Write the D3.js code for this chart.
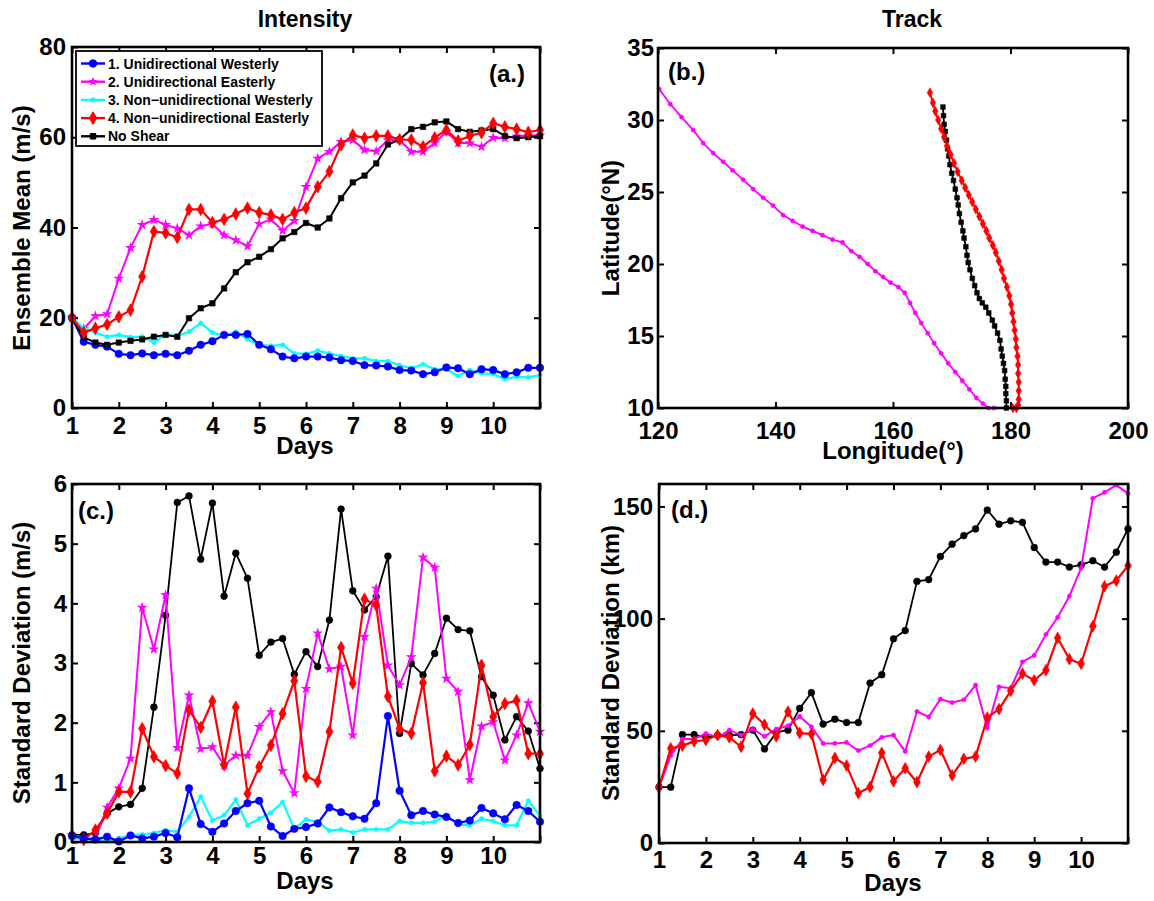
<!DOCTYPE html>
<html>
<head>
<meta charset="utf-8">
<script src="https://cdn.jsdelivr.net/npm/d3@7"></script>
<style>
  html, body { margin: 0; padding: 0; background: #fff; }
  svg { display: block; font-family: "Liberation Sans", Arial, sans-serif; font-weight: bold; }
  .tick text { font-family: "Liberation Sans", Arial, sans-serif; font-weight: bold; fill: #000; }
  .tick line { stroke: #000; stroke-width: 2; }
</style>
</head>
<body>
<svg id="fig" width="1154" height="901"></svg>
<script>
// ---- time axis: every 6 h from day 1 to day 11 ----
const days = d3.range(41).map(i => 1 + i / 4);
const dayTicks = [1, 2, 3, 4, 5, 6, 7, 8, 9, 10, 11];
const dayTickLabels = ["1", "2", "3", "4", "5", "6", "7", "8", "9", "10", ""];

const seriesNames = [
  "1. Unidirectional Westerly",
  "2. Unidirectional Easterly",
  "3. Non\u2212unidirectional Westerly",
  "4. Non\u2212unidirectional Easterly",
  "No Shear"
];

// ---- (a) ensemble-mean intensity (m/s) ----
const meanUW = [20, 14.7, 14.0, 13.6, 12.0, 11.7, 12.1, 11.7, 12.0, 11.7, 12.7, 14.0, 14.8, 16.2, 16.2, 16.4, 14.0, 13.0, 11.4, 11.0, 11.4, 11.4, 11.2, 10.6, 10.4, 9.5, 9.4, 9.2, 8.4, 8.3, 7.5, 7.9, 9.0, 8.8, 7.5, 8.6, 8.4, 7.5, 7.9, 8.9, 8.9];
const meanUE = [20, 17.5, 20.4, 20.8, 28.7, 35.5, 40.6, 41.7, 40.6, 39.8, 38.3, 40.3, 40.8, 38.3, 37.2, 35.9, 40.8, 41.8, 39.3, 41.5, 49.0, 55.3, 56.8, 59.0, 59.4, 57.2, 56.9, 59.4, 59.4, 56.8, 56.8, 58.7, 61.2, 58.7, 58.7, 57.9, 59.9, 59.8, 60.2, 60.4, 60.4];
const meanNW = [20, 17.7, 16.7, 15.8, 16.2, 15.7, 15.8, 14.5, 16.3, 16.0, 16.9, 18.8, 16.7, 16.0, 16.9, 15.2, 14.0, 13.8, 14.0, 12.1, 12.0, 12.7, 12.1, 11.5, 11.0, 11.0, 10.4, 10.4, 9.5, 8.8, 9.7, 8.6, 8.6, 7.1, 8.4, 7.7, 7.5, 6.4, 6.9, 6.8, 7.3];
const meanNE = [20, 16.7, 17.7, 18.5, 20.2, 21.7, 29.1, 39.1, 38.8, 37.8, 44.0, 44.0, 41.1, 41.8, 43.0, 44.3, 43.3, 42.8, 41.8, 43.3, 44.3, 49.0, 52.4, 58.3, 60.5, 59.8, 60.3, 60.3, 59.5, 59.4, 57.9, 59.9, 61.6, 59.2, 60.3, 61.0, 63.1, 62.3, 61.8, 61.1, 61.6];
const meanNS = [20, 15.7, 14.5, 14.0, 14.5, 14.9, 15.2, 15.8, 16.2, 15.8, 19.9, 22.1, 23.2, 26.5, 30.1, 32.3, 33.5, 35.2, 37.6, 39.0, 41.0, 40.0, 42.0, 46.5, 50.0, 51.5, 54.2, 58.4, 59.5, 61.8, 62.3, 63.3, 63.5, 61.8, 61.2, 61.5, 61.8, 60.3, 59.8, 60.0, 60.3];

// ---- (b) tracks (longitude °E, latitude °N) ----
const trackUELon = [177.2, 176.3, 175.3, 174.2, 173.0, 171.8, 170.6, 169.4, 168.2, 167.0, 165.9, 164.8, 163.8, 162.9, 162.0, 160.9, 159.6, 158.3, 157.0, 155.7, 154.3, 152.9, 151.4, 149.7, 148.0, 146.3, 144.6, 142.9, 141.3, 139.6, 137.9, 136.2, 134.5, 132.7, 131.1, 129.4, 127.7, 126.0, 124.0, 122.1, 120.2];
const trackUELat = [10.0, 10.0, 10.3, 10.7, 11.3, 11.9, 12.5, 13.1, 13.8, 14.5, 15.2, 15.9, 16.6, 17.3, 18.0, 18.4, 18.7, 19.1, 19.5, 20.0, 20.5, 20.9, 21.5, 21.7, 22.0, 22.3, 22.6, 23.0, 23.4, 24.05, 24.6, 25.2, 25.85, 26.5, 27.1, 27.7, 28.4, 29.3, 30.2, 31.1, 32.15];
const trackNELon = [180.4, 181.0, 181.3, 181.4, 181.4, 181.4, 181.3, 181.3, 181.2, 181.0, 180.9, 180.7, 180.5, 180.3, 180.1, 179.8, 179.4, 178.9, 178.5, 178.0, 177.5, 177.0, 176.4, 175.9, 175.3, 174.7, 174.1, 173.5, 172.9, 172.3, 171.7, 171.0, 170.4, 169.8, 169.2, 168.7, 168.2, 167.7, 167.2, 166.8, 166.3];
const trackNELat = [10.0, 10.0, 10.2, 10.6, 11.2, 11.8, 12.4, 13.0, 13.6, 14.2, 14.8, 15.4, 16.0, 16.6, 17.2, 17.8, 18.4, 19.0, 19.6, 20.2, 20.8, 21.3, 21.8, 22.3, 22.8, 23.3, 23.8, 24.3, 24.8, 25.3, 25.8, 26.4, 27.0, 27.6, 28.2, 28.8, 29.4, 30.0, 30.6, 31.2, 31.9];
const trackNSLon = [179.3, 179.3, 179.2, 179.2, 179.1, 179.0, 178.8, 178.6, 178.4, 178.2, 177.8, 177.3, 176.9, 176.3, 175.8, 175.2, 174.7, 174.3, 173.9, 173.5, 173.1, 172.8, 172.6, 172.4, 172.1, 171.9, 171.6, 171.3, 171.1, 170.9, 170.6, 170.3, 170.0, 169.7, 169.5, 169.3, 169.1, 168.9, 168.7, 168.6, 168.5];
const trackNSLat = [10.0, 10.5, 11.0, 11.5, 12.0, 12.6, 13.1, 13.6, 14.1, 14.7, 15.2, 15.7, 16.1, 16.6, 17.0, 17.3, 17.6, 18.0, 18.5, 19.0, 19.6, 20.1, 20.6, 21.2, 21.8, 22.3, 22.9, 23.5, 24.1, 24.6, 25.2, 25.8, 26.3, 26.9, 27.5, 28.0, 28.6, 29.2, 29.7, 30.3, 30.9];

// ---- (c) intensity spread (m/s) ----
const sdUW = [0.1, 0.06, 0.04, 0.09, 0.01, 0.11, 0.06, 0.09, 0.15, 0.08, 0.90, 0.30, 0.17, 0.31, 0.52, 0.65, 0.69, 0.26, 0.10, 0.22, 0.25, 0.31, 0.58, 0.50, 0.43, 0.39, 0.65, 2.11, 0.86, 0.45, 0.52, 0.46, 0.42, 0.32, 0.36, 0.57, 0.48, 0.38, 0.62, 0.52, 0.34];
const sdUE = [0.12, 0.06, 0.05, 0.58, 0.90, 1.40, 3.93, 3.23, 4.14, 1.58, 2.46, 1.56, 1.59, 1.29, 1.45, 1.45, 1.93, 2.18, 1.19, 0.82, 2.57, 3.50, 2.90, 2.94, 1.79, 3.44, 4.25, 2.96, 2.63, 3.10, 4.77, 4.60, 2.74, 2.52, 1.04, 1.94, 2.01, 1.37, 1.79, 2.33, 1.85];
const sdNW = [0.05, 0.06, 0.04, 0.01, 0.06, 0.11, 0.13, 0.15, 0.20, 0.17, 0.42, 0.76, 0.36, 0.45, 0.71, 0.28, 0.39, 0.49, 0.67, 0.22, 0.38, 0.34, 0.19, 0.21, 0.16, 0.21, 0.21, 0.21, 0.35, 0.32, 0.32, 0.34, 0.45, 0.30, 0.28, 0.39, 0.35, 0.28, 0.28, 0.69, 0.44];
const sdNE = [0.11, 0.04, 0.20, 0.48, 0.84, 0.84, 1.90, 1.43, 1.28, 1.15, 2.21, 1.92, 2.36, 1.29, 2.26, 0.81, 1.26, 1.62, 2.15, 2.70, 1.10, 1.01, 1.85, 3.26, 2.66, 4.07, 3.97, 2.44, 1.90, 1.82, 2.67, 1.19, 1.44, 1.29, 1.63, 2.96, 2.10, 2.32, 2.37, 1.48, 1.48];
const sdNS = [0.12, 0.12, 0.15, 0.48, 0.59, 0.63, 0.90, 2.26, 3.80, 5.69, 5.80, 4.74, 5.68, 4.12, 4.84, 4.42, 3.13, 3.35, 3.41, 2.81, 3.19, 2.94, 3.72, 5.58, 4.21, 3.89, 4.11, 4.79, 1.82, 2.99, 2.80, 3.16, 3.75, 3.56, 3.54, 2.77, 2.46, 1.71, 2.10, 1.86, 1.23];

// ---- (d) track spread (km) ----
const kmUE = [24.9, 38.9, 46.3, 46.3, 48.8, 47.1, 50.3, 48.1, 50.8, 47.5, 50.8, 52.2, 56.4, 51.8, 44.4, 44.4, 44.8, 41.2, 43.4, 47.1, 48.1, 40.8, 58.6, 56.2, 64.1, 62.6, 63.8, 70.4, 51.2, 69.6, 69.0, 80.7, 83.6, 92.9, 100.6, 110.0, 122.5, 153.6, 156.3, 159.5, 155.8];
const kmNE = [24.9, 42.2, 43.4, 45.3, 45.9, 48.1, 47.1, 42.9, 57.7, 52.7, 47.5, 58.6, 49.0, 48.6, 28.1, 37.9, 34.5, 22.2, 25.0, 40.2, 27.5, 33.3, 27.1, 38.5, 41.5, 30.1, 37.5, 38.5, 55.9, 59.7, 67.8, 75.5, 72.5, 77.0, 91.4, 81.9, 79.9, 96.6, 114.4, 116.9, 123.6];
const kmNS = [24.9, 24.9, 48.3, 48.3, 47.0, 48.0, 48.0, 48.3, 50.3, 41.9, 49.3, 50.3, 60.0, 67.0, 53.0, 55.2, 53.7, 53.7, 71.3, 75.0, 91.0, 94.7, 116.6, 117.4, 127.7, 133.2, 137.0, 140.0, 148.4, 142.1, 143.6, 142.9, 131.7, 125.2, 125.2, 123.0, 124.0, 125.8, 123.0, 129.6, 140.0];

const lonTicks = [120, 140, 160, 180, 200];
const latTicks = [10, 15, 20, 25, 30, 35];

// ---- drawing ----
const svg = d3.select("#fig");
const TICK_FONT = 24, LABEL_FONT = 24;

const style = {
  UW: { color: "#0000ff", sym: d3.symbolCircle, size: 44, width: 2.2 },
  UE: { color: "#ff00ff", sym: d3.symbolStar, size: 16, width: 2 },
  NW: { color: "#00ffff", sym: d3.symbolCircle, size: 14, width: 2.2 },
  NE: { color: "#ff0000", sym: d3.symbolDiamond, size: 46, width: 2.2 },
  NS: { color: "#000000", sym: d3.symbolSquare, size: 30, width: 2 }
};

function frame(box, x, y, xt, xfmt, yt, yfmt, xpad, ypad) {
  const g = svg.append("g");
  g.append("g").attr("transform", `translate(0,${box.b})`)
    .call(d3.axisBottom(x).tickValues(xt).tickFormat(xfmt).tickSize(-6).tickPadding(xpad))
    .call(s => s.select(".domain").remove());
  g.append("g").attr("transform", `translate(0,${box.t})`)
    .call(d3.axisTop(x).tickValues(xt).tickFormat("").tickSize(-6))
    .call(s => s.select(".domain").remove());
  g.append("g").attr("transform", `translate(${box.l},0)`)
    .call(d3.axisLeft(y).tickValues(yt).tickFormat(yfmt).tickSize(-6).tickPadding(ypad))
    .call(s => s.select(".domain").remove());
  g.append("g").attr("transform", `translate(${box.r},0)`)
    .call(d3.axisRight(y).tickValues(yt).tickFormat("").tickSize(-6))
    .call(s => s.select(".domain").remove());
  g.selectAll(".tick text").attr("font-size", TICK_FONT);
  return g;
}

function border(box) {
  svg.append("rect").attr("x", box.l).attr("y", box.t)
    .attr("width", box.r - box.l).attr("height", box.b - box.t)
    .attr("fill", "none").attr("stroke", "#000").attr("stroke-width", 2.6);
}

function series(xs, ys, x, y, st, opts = {}) {
  const g = svg.append("g");
  const pts = xs.map((d, i) => [x(d), y(ys[i])]);
  g.append("path").attr("d", d3.line()(pts))
    .attr("fill", "none").attr("stroke", st.color)
    .attr("stroke-width", opts.width || st.width).attr("stroke-linejoin", "round");
  const sym = opts.sym || st.sym;
  const size = opts.size || st.size;
  g.selectAll("path.m").data(pts).join("path").attr("class", "m")
    .attr("transform", d => `translate(${d[0]},${d[1]})`)
    .attr("d", d3.symbol(sym, size)())
    .attr("fill", st.color).attr("stroke", st.color).attr("stroke-width", sym === d3.symbolStar ? 1.2 : 0.6);
}

function text(x, y, s, size, anchor = "start", rot = 0) {
  svg.append("text").attr("transform", `translate(${x},${y}) rotate(${rot})`)
    .attr("text-anchor", anchor).attr("font-size", size).attr("font-weight", "bold")
    .attr("fill", "#000").text(s);
}

const dayFmt = d => dayTickLabels[dayTicks.indexOf(d)];
const intFmt = d3.format("d");

// Panel (a)
{
  const box = { l: 72, r: 540, t: 47, b: 408 };
  const x = d3.scaleLinear().domain([1, 11]).range([box.l, box.r]);
  const y = d3.scaleLinear().domain([0, 80]).range([box.b, box.t]);
  frame(box, x, y, dayTicks, dayFmt, [0, 20, 40, 60, 80], intFmt, 9, 6);
  series(days, meanUE, x, y, style.UE);
  series(days, meanNW, x, y, style.NW);
  series(days, meanUW, x, y, style.UW);
  series(days, meanNS, x, y, style.NS);
  series(days, meanNE, x, y, style.NE);
  border(box);

  // legend
  const lg = svg.append("g");
  lg.append("rect").attr("x", 76).attr("y", 51).attr("width", 246).attr("height", 95)
    .attr("fill", "#fff").attr("stroke", "#000").attr("stroke-width", 1.8);
  const keys = ["UW", "UE", "NW", "NE", "NS"];
  keys.forEach((k, i) => {
    const yy = 63.5 + i * 18.2;
    const st = style[k];
    lg.append("line").attr("x1", 81).attr("x2", 105).attr("y1", yy).attr("y2", yy)
      .attr("stroke", st.color).attr("stroke-width", 2.4);
    lg.append("path").attr("transform", `translate(93,${yy})`)
      .attr("d", d3.symbol(st.sym, st.size)()).attr("fill", st.color).attr("stroke", st.color);
    lg.append("text").attr("x", 108).attr("y", yy + 5).attr("font-size", 14)
      .attr("font-weight", "bold").text(seriesNames[i]);
  });

  text(489, 82, "(a.)", 24);
  text(305, 27, "Intensity", 23, "middle");
  text(305, 454, "Days", LABEL_FONT, "middle");
  text(30, 228, "Ensemble Mean (m/s)", LABEL_FONT, "middle", -90);
}

// Panel (b)
{
  const box = { l: 658, r: 1128, t: 48, b: 408 };
  const x = d3.scaleLinear().domain([120, 200]).range([box.l, box.r]);
  const y = d3.scaleLinear().domain([10, 35]).range([box.b, box.t]);
  frame(box, x, y, lonTicks, intFmt, latTicks, intFmt, 14, 4);
  series(trackUELon, trackUELat, x, y, style.UE, { sym: d3.symbolCircle, size: 14, width: 1.8 });
  series(trackNSLon, trackNSLat, x, y, style.NS, { size: 22, width: 1.8 });
  series(trackNELon, trackNELat, x, y, style.NE, { size: 26, width: 1.8 });
  border(box);
  text(668, 80, "(b.)", 24);
  text(912, 27, "Track", 23, "middle");
  text(893, 459, "Longitude(\u00b0)", LABEL_FONT, "middle");
  text(619, 228, "Latitude(\u00b0N)", LABEL_FONT, "middle", -90);
}

// Panel (c)
{
  const box = { l: 72, r: 540, t: 484, b: 842 };
  const x = d3.scaleLinear().domain([1, 11]).range([box.l, box.r]);
  const y = d3.scaleLinear().domain([0, 6]).range([box.b, box.t]);
  frame(box, x, y, dayTicks, dayFmt, [0, 1, 2, 3, 4, 5, 6], intFmt, 5, 5);
  series(days, sdNS, x, y, style.NS, { sym: d3.symbolCircle, size: 36, width: 1.8 });
  series(days, sdUE, x, y, style.UE);
  series(days, sdNE, x, y, style.NE);
  series(days, sdNW, x, y, style.NW);
  series(days, sdUW, x, y, style.UW);
  border(box);
  text(78, 519, "(c.)", 24);
  text(305, 889, "Days", LABEL_FONT, "middle");
  text(30, 663, "Standard Deviation (m/s)", LABEL_FONT, "middle", -90);
}

// Panel (d)
{
  const box = { l: 659, r: 1128, t: 484, b: 843 };
  const x = d3.scaleLinear().domain([1, 11]).range([box.l, box.r]);
  const y = d3.scaleLinear().domain([0, 160]).range([box.b, box.t]);
  frame(box, x, y, dayTicks, dayFmt, [0, 50, 100, 150], intFmt, 8, 6);
  series(days, kmNS, x, y, style.NS, { sym: d3.symbolCircle, size: 36, width: 1.8 });
  series(days, kmUE, x, y, style.UE, { sym: d3.symbolCircle, size: 14, width: 2 });
  series(days, kmNE, x, y, style.NE, { size: 40 });
  border(box);
  text(671, 518, "(d.)", 24);
  text(893, 891, "Days", LABEL_FONT, "middle");
  text(619, 663, "Standard Deviation (km)", LABEL_FONT, "middle", -90);
}
</script>
</body>
</html>
